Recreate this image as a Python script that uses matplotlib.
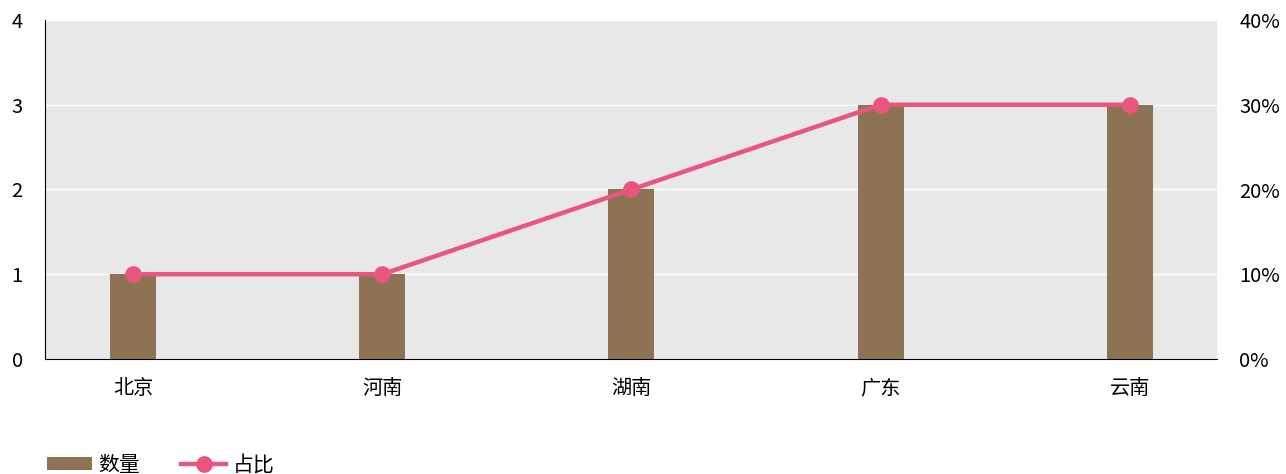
import matplotlib
matplotlib.use("Agg")
import matplotlib.pyplot as plt
from matplotlib.ticker import FuncFormatter

plt.rcParams["font.family"] = ["Noto Sans CJK SC", "DejaVu Sans"]

# Data
provinces = ["北京", "河南", "湖南", "广东", "云南"]
counts = [1, 1, 2, 3, 3]
shares = [0.10, 0.10, 0.20, 0.30, 0.30]

bar_color = "#8d7353"
line_color = "#e8567f"

fig = plt.figure(figsize=(12.86, 4.74), dpi=100)
ax = fig.add_axes([45 / 1286, 1 - 359 / 474, (1217 - 45) / 1286, (359 - 20) / 474])
ax.set_facecolor("#e8e8e8")

x = list(range(len(provinces)))
bars = ax.bar(x, counts, width=0.185, color=bar_color, label="数量", zorder=2)
ax.set_ylim(0, 4)
ax.set_xlim(-0.353, 4.35)
ax.set_yticks([0, 1, 2, 3, 4])
ax.set_xticks(x)
ax.set_xticklabels(provinces)
ax.grid(axis="y", color="white", linewidth=1, zorder=1)
ax.set_axisbelow(True)
for s in ["top", "right"]:
    ax.spines[s].set_visible(False)
ax.spines["left"].set_color("black")
ax.spines["bottom"].set_color("black")
ax.tick_params(length=0, labelsize=14.5)
ax.tick_params(axis="x", pad=14)
ax.tick_params(axis="y", pad=16)

ax2 = ax.twinx()
line, = ax2.plot(x, shares, color=line_color, linewidth=3.2, marker="o",
                 markersize=11, label="占比", zorder=3)
ax2.set_ylim(0, 0.4)
ax2.set_yticks([0, 0.1, 0.2, 0.3, 0.4])
ax2.yaxis.set_major_formatter(FuncFormatter(lambda v, _: f"{v * 100:.0f}%"))
for s in ["top", "right", "left", "bottom"]:
    ax2.spines[s].set_visible(False)
ax2.tick_params(length=0, labelsize=14.5, pad=16)

fig.legend([bars, line], ["数量", "占比"], loc="center left",
           bbox_to_anchor=(47 / 1286, 9 / 474), ncol=2, frameon=False,
           fontsize=15, handlelength=2.15, handleheight=0.55,
           columnspacing=2.0, handletextpad=0.3,
           borderpad=0, borderaxespad=0)

fig.savefig("out.png", dpi=100)
